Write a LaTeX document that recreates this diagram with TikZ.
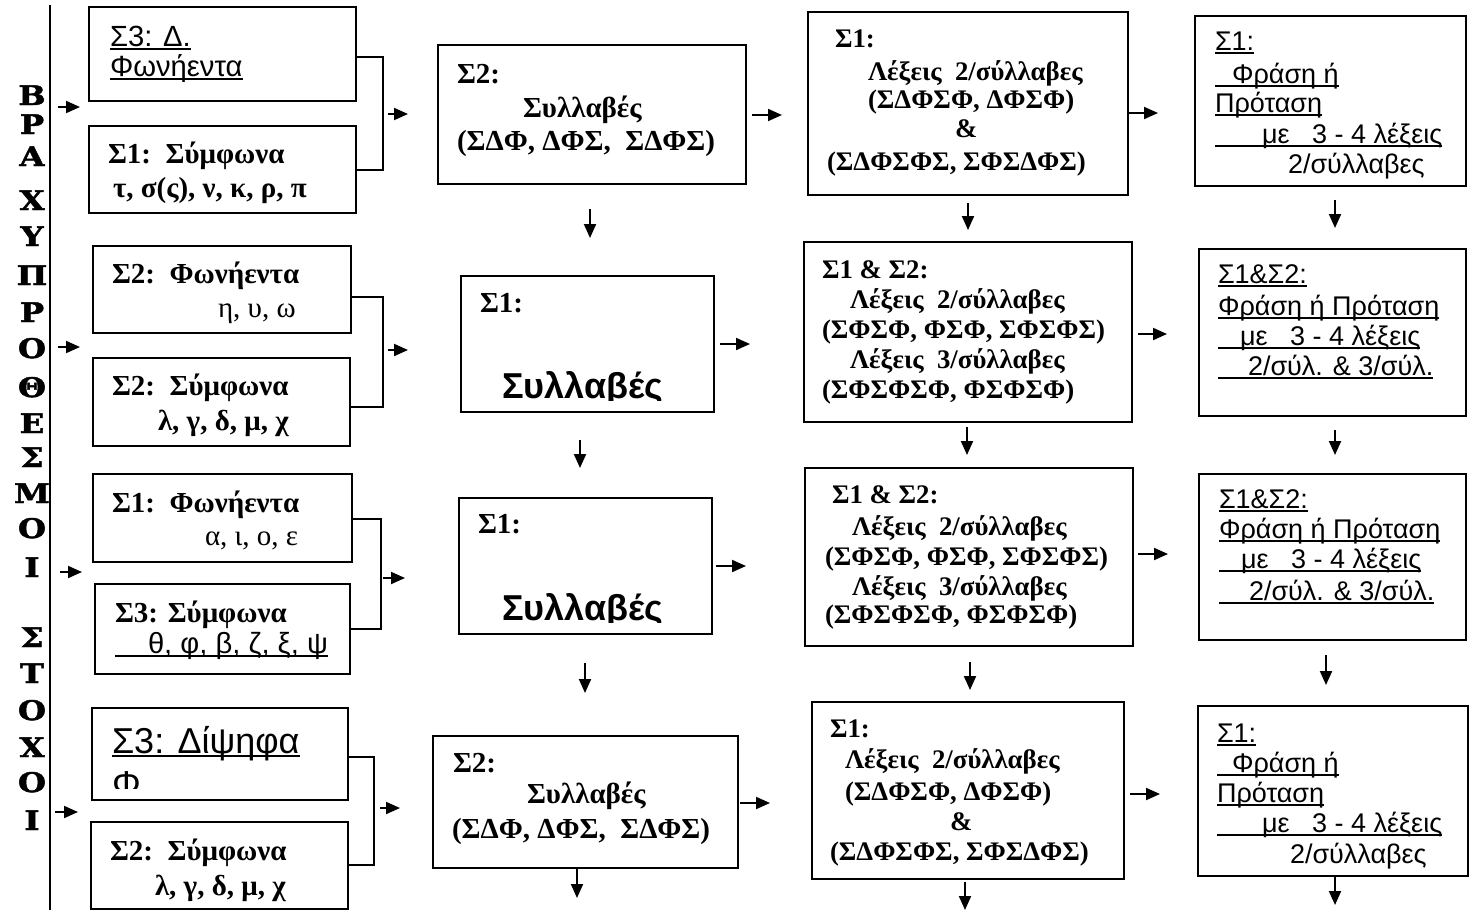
\documentclass[tikz,border=0pt]{standalone}
\usepackage{fontspec}
\setmainfont{Liberation Serif}
\setsansfont{Liberation Sans}
\newfontfamily\lettfont[BoldFeatures={FakeBold=1.5}]{DejaVu Serif}
\usetikzlibrary{arrows.meta}
\newsavebox\ulbox
\newcommand\ulx[2]{\sbox\ulbox{\hspace*{#1}#2}\rlap{\rule[-1.8pt]{\wd\ulbox}{0.9pt}}\usebox\ulbox}
\tikzset{
  bx/.style={draw, line width=1pt, rectangle, inner sep=0pt, anchor=north west},
  txt/.style={anchor=base west, inner sep=0pt, outer sep=0pt},
  sb/.style={txt, font=\fontsize{14.5}{16}\selectfont\bfseries},
  sbc/.style={txt, font=\fontsize{13.4}{15}\selectfont\bfseries},
  sr/.style={txt, font=\fontsize{14.5}{16}\selectfont},
  ss/.style={txt, font=\sffamily\fontsize{13.5}{15}\selectfont},
  ssl/.style={txt, font=\sffamily\fontsize{14.6}{16}\selectfont},
  sbig/.style={txt, font=\sffamily\bfseries\fontsize{18}{20}\selectfont},
  sdi/.style={txt, font=\sffamily\fontsize{18}{20}\selectfont},
  lett/.style={anchor=base, inner sep=0pt, font=\lettfont\bfseries\fontsize{13.5}{15}\selectfont},
  arr/.style={line width=1pt, -{Triangle[length=7pt,width=6pt]}},
  brk/.style={line width=1pt}
}
\newcommand\boxat[5]{\node[bx, minimum width={(#4-#2)*0.5pt}, minimum height={(#5-#3)*0.5pt}] (#1) at (#2,#3) {};}
\newcommand\arrow[5]{\coordinate (#1s) at (#2,#3); \coordinate (#1e) at (#4,#5); \draw[arr] (#1s) -- (#1e);}
\newcommand\lt[3]{\node[lett] (#1) at (32,#2) {\scalebox{1.2}[1]{#3}};}
\begin{document}
\begin{tikzpicture}[x=0.5pt,y=-0.5pt]
\useasboundingbox (0,0) rectangle (1476,910);
% left label
\coordinate (vt) at (50,5); \coordinate (vb) at (50,910);
\draw[line width=1pt] (vt) -- (vb);
\lt{l1}{105}{Β}
\lt{l2}{134}{Ρ}
\lt{l3}{166}{Α}
\lt{l4}{210}{Χ}
\lt{l5}{246}{Υ}
\lt{l6}{285}{Π}
\lt{l7}{322}{Ρ}
\lt{l8}{358}{Ο}
\lt{l9}{397}{Θ}
\lt{l10}{433}{Ε}
\lt{l11}{467}{Σ}
\lt{l12}{503}{Μ}
\lt{l13}{538}{Ο}
\lt{l14}{577}{Ι}
\lt{l15}{647}{Σ}
\lt{l16}{683}{Τ}
\lt{l17}{720}{Ο}
\lt{l18}{757}{Χ}
\lt{l19}{792}{Ο}
\lt{l20}{830}{Ι}
% input arrows
\arrow{in1}{58}{107}{80}{107}
\arrow{in2}{58}{347}{80}{347}
\arrow{in3}{60}{572}{82}{572}
\arrow{in4}{55}{812}{78}{812}
% column 1 boxes
\boxat{a1}{88}{6}{355}{100}
\boxat{a2}{88}{125}{355}{212}
\boxat{b1}{92}{245}{350}{332}
\boxat{b2}{92}{357}{349}{445}
\boxat{c1}{92}{473}{351}{561}
\boxat{c2}{94}{583}{349}{673}
\boxat{d1}{91}{707}{347}{799}
\boxat{d2}{90}{821}{347}{908}
% column 1 texts
\node[ssl] (ta1a) at (110,46) {\ulx{0pt}{Σ3: Δ.}};
\node[ssl] (ta1b) at (110,76) {\ulx{0pt}{Φωνήεντα}};
\node[sb] (ta2a) at (108,163) {Σ1:\ \ Σύμφωνα};
\node[sb] (ta2b) at (113,197) {τ, σ(ς), ν, κ, ρ, π};
\node[sb] (tb1a) at (112,283) {Σ2:\ \ Φωνήεντα};
\node[sr] (tb1b) at (218,317) {η, υ, ω};
\node[sb] (tb2a) at (112,395) {Σ2:\ \ Σύμφωνα};
\node[sb] (tb2b) at (158,430) {λ, γ, δ, μ, χ};
\node[sb] (tc1a) at (112,512) {Σ1:\ \ Φωνήεντα};
\node[sr] (tc1b) at (205,545) {α, ι, ο, ε};
\node[sb] (tc2a) at (115,622) {Σ3: Σύμφωνα};
\node[ssl] (tc2b) at (115,653) {\ulx{16.5pt}{θ, φ, β, ζ, ξ, ψ}};
\node[sdi] (td1a) at (112,753) {\ulx{0pt}{Σ3: Δίψηφα}};
\begin{scope}
\clip (100,765) rectangle (200,788);
\node[sdi] (td1b) at (112,796) {Φ};
\end{scope}
\node[sb] (td2a) at (110,860) {Σ2:\ \ Σύμφωνα};
\node[sb] (td2b) at (155,895) {λ, γ, δ, μ, χ};
% brackets
\draw[brk] (a1.east |- 0,57) -- (383,57) -- (383,170) -- (a2.east |- 0,170);
\draw[brk] (b1.east |- 0,297) -- (383,297) -- (383,407) -- (b2.east |- 0,407);
\draw[brk] (c1.east |- 0,519) -- (381,519) -- (381,629) -- (c2.east |- 0,629);
\draw[brk] (d1.east |- 0,757) -- (374,757) -- (374,865) -- (d2.east |- 0,865);
\arrow{g1}{388}{114}{408}{114}
\arrow{g2}{388}{350}{408}{350}
\arrow{g3}{383}{578}{405}{578}
\arrow{g4}{380}{808}{400}{808}
% column 2
\boxat{e1}{437}{44}{745}{183}
\boxat{e2}{460}{275}{713}{411}
\boxat{e3}{458}{497}{711}{633}
\boxat{e4}{432}{735}{737}{867}
\node[sb] (te1a) at (457,83) {Σ2:};
\node[sb] (te1b) at (523,117) {Συλλαβές};
\node[sb] (te1c) at (457,150) {(ΣΔΦ, ΔΦΣ,\ \ ΣΔΦΣ)};
\node[sb] (te2a) at (480,312) {Σ1:};
\begin{scope}
\clip (470,340) rectangle (700,400);
\node[sbig] (te2b) at (502,398) {Συλλαβές};
\end{scope}
\node[sb] (te3a) at (478,533) {Σ1:};
\begin{scope}
\clip (470,560) rectangle (700,622);
\node[sbig] (te3b) at (502,620) {Συλλαβές};
\end{scope}
\node[sb] (te4a) at (453,772) {Σ2:};
\node[sb] (te4b) at (527,803) {Συλλαβές};
\node[sb] (te4c) at (452,838) {(ΣΔΦ, ΔΦΣ,\ \ ΣΔΦΣ)};
% column 3
\boxat{f1}{807}{11}{1127}{194}
\boxat{f2}{803}{241}{1131}{421}
\boxat{f3}{804}{467}{1132}{645}
\boxat{f4}{811}{701}{1123}{878}
\node[sbc] (tf1a) at (835,47) {Σ1:};
\node[sbc] (tf1b) at (868,80) {Λέξεις\ \ 2/σύλλαβες};
\node[sbc] (tf1c) at (868,108) {(ΣΔΦΣΦ, ΔΦΣΦ)};
\node[sbc] (tf1d) at (955,137) {\&};
\node[sbc] (tf1e) at (827,170) {(ΣΔΦΣΦΣ, ΣΦΣΔΦΣ)};
\node[sbc] (tf2a) at (822,278) {Σ1 \& Σ2:};
\node[sbc] (tf2b) at (850,308) {Λέξεις\ \ 2/σύλλαβες};
\node[sbc] (tf2c) at (822,338) {(ΣΦΣΦ, ΦΣΦ, ΣΦΣΦΣ)};
\node[sbc] (tf2d) at (850,368) {Λέξεις\ \ 3/σύλλαβες};
\node[sbc] (tf2e) at (822,398) {(ΣΦΣΦΣΦ, ΦΣΦΣΦ)};
\node[sbc] (tf3a) at (832,503) {Σ1 \& Σ2:};
\node[sbc] (tf3b) at (852,535) {Λέξεις\ \ 2/σύλλαβες};
\node[sbc] (tf3c) at (825,565) {(ΣΦΣΦ, ΦΣΦ, ΣΦΣΦΣ)};
\node[sbc] (tf3d) at (852,595) {Λέξεις\ \ 3/σύλλαβες};
\node[sbc] (tf3e) at (825,623) {(ΣΦΣΦΣΦ, ΦΣΦΣΦ)};
\node[sbc] (tf4a) at (830,737) {Σ1:};
\node[sbc] (tf4b) at (845,768) {Λέξεις\ \ 2/σύλλαβες};
\node[sbc] (tf4c) at (845,800) {(ΣΔΦΣΦ, ΔΦΣΦ)};
\node[sbc] (tf4d) at (950,830) {\&};
\node[sbc] (tf4e) at (830,860) {(ΣΔΦΣΦΣ, ΣΦΣΔΦΣ)};
% column 4
\boxat{h1}{1194}{15}{1465}{185}
\boxat{h2}{1198}{248}{1465}{415}
\boxat{h3}{1198}{473}{1465}{639}
\boxat{h4}{1197}{705}{1467}{875}
\node[ss] (th1a) at (1215,50) {\ulx{0pt}{Σ1:}};
\node[ss] (th1b) at (1215,83) {\ulx{8.5pt}{Φράση ή}};
\node[ss] (th1c) at (1215,112) {\ulx{0pt}{Πρόταση}};
\node[ss] (th1d) at (1215,143) {\ulx{23.5pt}{με\ \ \ 3 - 4 λέξεις}};
\node[ss] (th1e) at (1288,173) {2/σύλλαβες};
\node[ss] (th2a) at (1218,283) {\ulx{0pt}{Σ1\&Σ2:}};
\node[ss] (th2b) at (1218,315) {\ulx{0pt}{Φράση ή Πρόταση}};
\node[ss] (th2c) at (1218,345) {\ulx{11pt}{με\ \ \ 3 - 4 λέξεις}};
\node[ss] (th2d) at (1218,375) {\ulx{15pt}{2/σύλ. \& 3/σύλ.}};
\node[ss] (th3a) at (1219,508) {\ulx{0pt}{Σ1\&Σ2:}};
\node[ss] (th3b) at (1219,538) {\ulx{0pt}{Φράση ή Πρόταση}};
\node[ss] (th3c) at (1219,568) {\ulx{11pt}{με\ \ \ 3 - 4 λέξεις}};
\node[ss] (th3d) at (1219,600) {\ulx{15pt}{2/σύλ. \& 3/σύλ.}};
\node[ss] (th4a) at (1217,742) {\ulx{0pt}{Σ1:}};
\node[ss] (th4b) at (1217,772) {\ulx{7.5pt}{Φράση ή}};
\node[ss] (th4c) at (1217,802) {\ulx{0pt}{Πρόταση}};
\node[ss] (th4d) at (1217,832) {\ulx{22.5pt}{με\ \ \ 3 - 4 λέξεις}};
\node[ss] (th4e) at (1290,863) {2/σύλλαβες};
% arrows col2 -> col3
\arrow{r1}{752}{115}{782}{115}
\arrow{r2}{720}{344}{750}{344}
\arrow{r3}{716}{566}{746}{566}
\arrow{r4}{740}{803}{770}{803}
% arrows col3 -> col4
\arrow{s1}{1128}{113}{1158}{113}
\arrow{s2}{1138}{334}{1167}{334}
\arrow{s3}{1138}{554}{1168}{554}
\arrow{s4}{1130}{794}{1160}{794}
% down arrows
\arrow{u1}{590}{209}{590}{238}
\arrow{u2}{580}{440}{580}{468}
\arrow{u3}{585}{663}{585}{693}
\arrow{u4}{577}{869}{577}{898}
\arrow{v1}{968}{203}{968}{230}
\arrow{v2}{967}{427}{967}{455}
\arrow{v3}{970}{662}{970}{690}
\arrow{v4}{965}{882}{965}{910}
\arrow{w1}{1335}{200}{1335}{228}
\arrow{w2}{1335}{430}{1335}{455}
\arrow{w3}{1326}{655}{1326}{685}
\arrow{w4}{1335}{877}{1335}{905}
\end{tikzpicture}
\end{document}
